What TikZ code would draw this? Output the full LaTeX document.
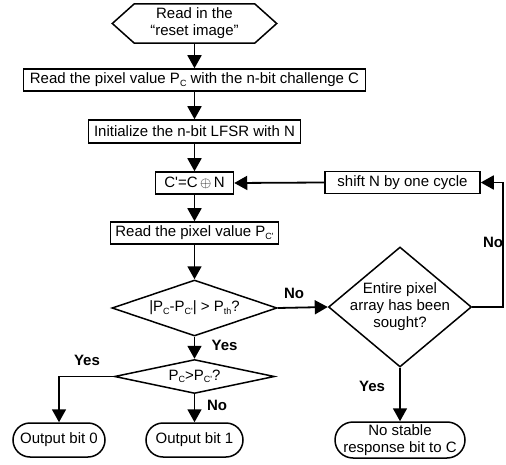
\documentclass[tikz,border=0pt]{standalone}
\usepackage{fontspec}
\setmainfont{Liberation Sans}
\usetikzlibrary{arrows.meta,shapes.geometric}
\newcommand\subx[1]{\raisebox{-0.3ex}{\fontsize{9}{9}\selectfont #1}}
\newcommand\apo{\textquotesingle}
\begin{document}
\begin{tikzpicture}[x=1pt,y=-1pt,
 every node/.style={font=\fontsize{15}{17}\selectfont},
 proc/.style={draw, line width=1.5pt, minimum height=22pt, inner sep=0pt},
 dec/.style={draw, diamond, line width=1.5pt, inner sep=0pt},
 term/.style={draw, line width=1.5pt, rounded corners=17pt, inner sep=0pt, align=center},
 conn/.style={line width=1.8pt, -{Triangle[length=13pt,width=14pt]}},
 lbl/.style={font=\fontsize{15}{17}\selectfont\bfseries, inner sep=0pt}]
\useasboundingbox (0,0) rectangle (506,465);
\node[minimum width=164pt, minimum height=39pt, inner sep=0pt, align=center] (hex) at (194.5,23.5) {Read in the\\“reset image”};
\draw[line width=1.5pt] (hex.west) -- ([xshift=22pt]hex.north west) -- ([xshift=-22pt]hex.north east) -- (hex.east) -- ([xshift=-22pt]hex.south east) -- ([xshift=22pt]hex.south west) -- cycle;
\node[proc, minimum width=342pt] (b1) at (194.5,80) {Read the pixel value P\subx{C} with the n-bit challenge C};
\node[proc, minimum width=212pt, minimum height=23pt] (b2) at (194.5,131.5) {Initialize the n-bit LFSR with N};
\node[proc, minimum width=78pt] (b3) at (194.5,183) {C\apo=C\,$\oplus$\,N};
\node[proc, minimum width=155pt] (sh) at (402.5,182.5) {shift N by one cycle};
\node[proc, minimum width=168pt] (b4) at (194.5,233) {Read the pixel value P\subx{C\apo}};
\node[dec, minimum width=165pt, minimum height=56pt, label=center:{|P\subx{C}-P\subx{C\apo}| > P\subx{th}?}] (d1) at (194.5,308) {};
\node[dec, minimum width=143pt, minimum height=120pt, label={[align=center]center:Entire pixel\\array has been\\sought?}] (d2) at (400,307) {};
\node[dec, minimum width=160pt, minimum height=34pt, label=center:{P\subx{C}>P\subx{C\apo}?}] (d3) at (194.5,376.5) {};
\node[term, minimum width=92pt, minimum height=34pt] (o0) at (59,440) {Output bit 0};
\node[term, minimum width=97pt, minimum height=34pt] (o1) at (194.5,440) {Output bit 1};
\node[term, minimum width=130pt, minimum height=36pt, rounded corners=18pt] (ns) at (400,440) {No stable\\response bit to C};
\draw[conn] (hex.south) -- (b1.north);
\draw[conn] (b1.south) -- (b2.north);
\draw[conn] (b2.south) -- (b3.north);
\draw[conn] (b3.south) -- (b4.north);
\draw[conn] (b4.south) -- (d1.north);
\draw[conn] (sh.west) -- (b3.east);
\draw[conn] (d1.east) -- (d2.west);
\draw[conn] (d1.south) -- (d3.north);
\draw[conn] (d3.west) -| (o0.north);
\draw[conn] (d3.south) -- (o1.north);
\draw[conn] (d2.south) -- (ns.north);
\draw[conn] (d2.east) -- ++(31,0) |- (sh.east);
\node[lbl] (l1) at (294,293) {No};
\node[lbl] (l2) at (224.5,345) {Yes};
\node[lbl] (l3) at (87,360) {Yes};
\node[lbl] (l4) at (217,405) {No};
\node[lbl] (l5) at (372,386) {Yes};
\node[lbl] (l6) at (493,242) {No};
\end{tikzpicture}
\end{document}
